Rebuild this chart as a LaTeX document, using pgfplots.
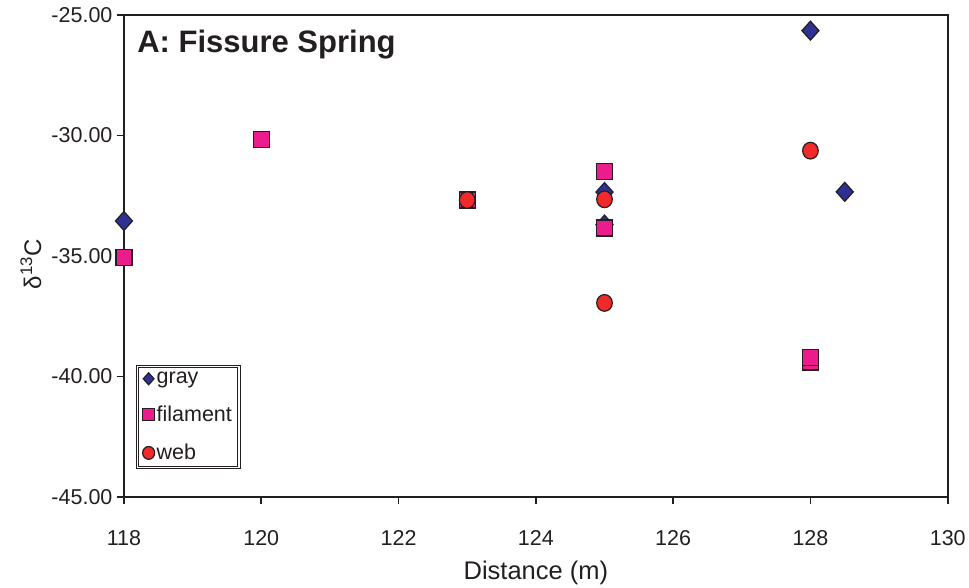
\documentclass[border=0pt]{standalone}
\usepackage{pgfplots}
\pgfplotsset{compat=1.18}
\usepackage{fontspec}
\setmainfont{Liberation Sans}
\definecolor{cgray}{HTML}{2E3192}
\definecolor{cfil}{HTML}{EC1C8C}
\definecolor{cweb}{HTML}{EE2A2A}
\definecolor{cline}{HTML}{231F20}
\begin{document}
\begin{tikzpicture}
\begin{axis}[
  scale only axis, width=824pt, height=482pt,
  xmin=118, xmax=130, ymin=-45, ymax=-25,
  xtick={118,120,...,130}, ytick={-45,-40,...,-25},
  axis line style={line width=1.8pt, cline},
  tick style={line width=1.6pt, cline},
  tick align=outside, tick pos=left,
  major tick length=7pt,
  /pgf/number format/assume math mode=true,
  ticklabel style={font=\fontsize{21.5}{25}\selectfont, text=cline},
  yticklabel style={xshift=-1pt, /pgf/number format/.cd, fixed, fixed zerofill, precision=2},
  xticklabel style={yshift=-23pt, /pgf/number format/.cd, fixed, precision=0, 1000 sep={}},
  xlabel={Distance (m)}, ylabel={δ\textsuperscript{13}C},
  xlabel style={font=\fontsize{25.5}{30}\selectfont, at={(axis description cs:0.5,-0.157)}, anchor=center, text=cline},
  ylabel style={font=\fontsize{24}{28}\selectfont, at={(axis description cs:-0.113,0.483)}, anchor=center, text=cline},
  legend style={at={(axis description cs:0.016,0.06)}, anchor=south west,
    font=\fontsize{21.5}{24}\selectfont, draw=cline, line width=1pt, double=white, double distance=1.5pt,
    inner xsep=5pt, inner ysep=4pt, row sep=17pt, cells={anchor=west}, text=cline},
  legend image code/.code={\draw[#1, mark size=6pt, line width=1pt] plot coordinates {(0pt,0pt)};},
  clip=false,
]
\addplot[only marks, mark=diamond*, mark size=9.5pt, mark options={xscale=1.2, fill=cgray, draw=cline, line width=1.2pt}]
  coordinates {(118,-33.55) (125,-32.35) (125,-33.7) (128,-25.65) (128.5,-32.34)};
\addlegendentry{gray}
\addplot[only marks, mark=square*, mark size=8pt, mark options={fill=cfil, draw=cline, line width=1.2pt}]
  coordinates {(118,-35.06) (120,-30.17) (123,-32.68) (125,-31.5) (125,-33.84) (128,-39.4) (128,-39.23)};
\addlegendentry{filament}
\addplot[only marks, mark=*, mark size=7.8pt, mark options={yscale=1.07, fill=cweb, draw=cline, line width=1.2pt}]
  coordinates {(123,-32.68) (125,-32.65) (125,-36.95) (128,-30.63)};
\addlegendentry{web}
\node[anchor=north west, font=\fontsize{31}{36}\selectfont\bfseries, inner sep=0pt, text=cline] at (axis description cs:0.016,0.97) {A: Fissure Spring};
\end{axis}
\path (current axis.south west) ++(-124pt,-89pt) rectangle ++(969pt,586pt);
\end{tikzpicture}
\end{document}
